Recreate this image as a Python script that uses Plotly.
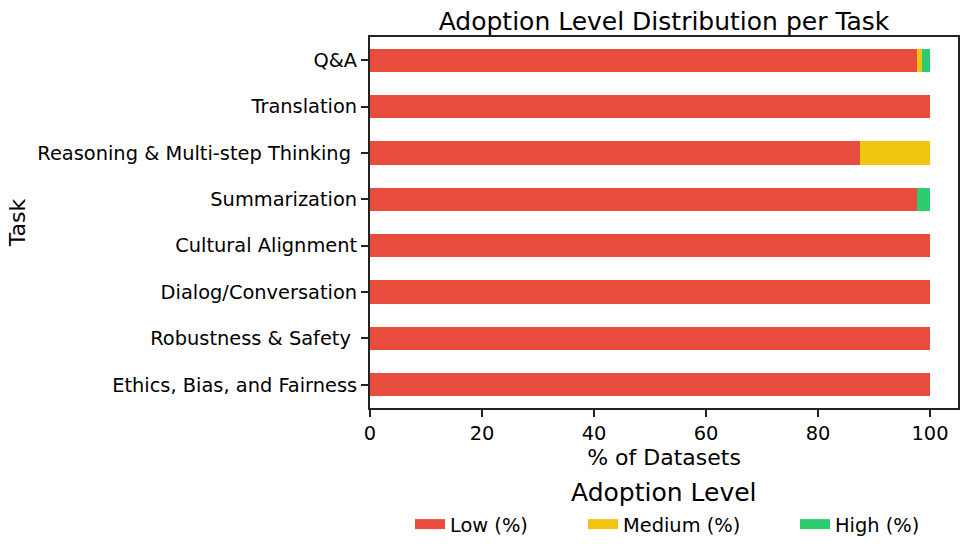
import plotly.graph_objects as go

tasks = ["Q&A", "Translation", "Reasoning & Multi-step Thinking ", "Summarization",
         "Cultural Alignment", "Dialog/Conversation", "Robustness & Safety ",
         "Ethics, Bias, and Fairness"]
low = [97.7, 100, 87.5, 97.7, 100, 100, 100, 100]
medium = [0.9, 0, 12.5, 0, 0, 0, 0, 0]
high = [1.4, 0, 0, 2.3, 0, 0, 0, 0]
x_ticks = [0, 20, 40, 60, 80, 100]

series = [("Low (%)", low, "#e74c3c"), ("Medium (%)", medium, "#f1c40f"), ("High (%)", high, "#2ecc71")]
legend_ids = ["legend", "legend2", "legend3"]
legend_px = [410, 583, 795]   # left pixel of each legend entry

fig = go.Figure()
for name, vals, col in series:
    fig.add_trace(go.Bar(y=tasks, x=vals, name=name, orientation="h", showlegend=False,
                         marker=dict(color=col, line=dict(width=0)), width=0.5))
# legend entries (rectangular patches), one legend each so they sit in one row
for (name, vals, col), lid in zip(series, legend_ids):
    fig.add_trace(go.Scatter(x=[None], y=[None], mode="lines", name=name, legend=lid,
                             line=dict(color=col, width=13)))

font = "DejaVu Sans"
L, R, T, B = 370, 958, 37, 408
H = B - T
W_FIG, H_FIG = 966, 552

legend_common = dict(orientation="h", xanchor="left", xref="container", yref="container",
                     y=1 - 505 / H_FIG, yanchor="top", font=dict(size=19.4),
                     bgcolor="rgba(0,0,0,0)", borderwidth=0)

fig.update_layout(
    barmode="stack",
    width=W_FIG, height=H_FIG,
    margin=dict(l=L, r=W_FIG - R, t=T, b=H_FIG - B, autoexpand=False),
    paper_bgcolor="white", plot_bgcolor="white",
    font=dict(family=font, size=19.4, color="black"),
    title=dict(text="Adoption Level Distribution per Task", x=(L + R) / 2 / W_FIG, xanchor="center",
               y=1 - 21 / H_FIG, yanchor="middle", font=dict(size=25)),
    xaxis=dict(range=[0, 105], tickvals=x_ticks, ticks="outside", ticklen=7, tickwidth=1.5,
               tickcolor="#222",
               showline=True, linecolor="#222", linewidth=2, mirror=True, showgrid=False, zeroline=False,
               title=dict(text="% of Datasets", font=dict(size=22), standoff=4),
               tickfont=dict(size=19.4)),
    yaxis=dict(categoryorder="array", categoryarray=tasks[::-1], range=[-0.5, 7.5],
               ticks="outside", ticklen=7, tickwidth=1.5, tickcolor="#222",
               showline=True, linecolor="#222", linewidth=2, mirror=True, showgrid=False,
               title=dict(text="Task", font=dict(size=22), standoff=6), tickfont=dict(size=19.4)),
    legend=dict(x=legend_px[0] / W_FIG, **legend_common),
    legend2=dict(x=legend_px[1] / W_FIG, **legend_common),
    legend3=dict(x=legend_px[2] / W_FIG, **legend_common),
    showlegend=True,
    annotations=[dict(text="Adoption Level", xref="paper", yref="paper",
                      x=0.5, y=(B - 492) / H, xanchor="center", yanchor="middle",
                      showarrow=False, font=dict(size=25))],
)

fig.write_html("out.html", config={"displayModeBar": False},
               post_script="document.body.style.margin='0px';")
